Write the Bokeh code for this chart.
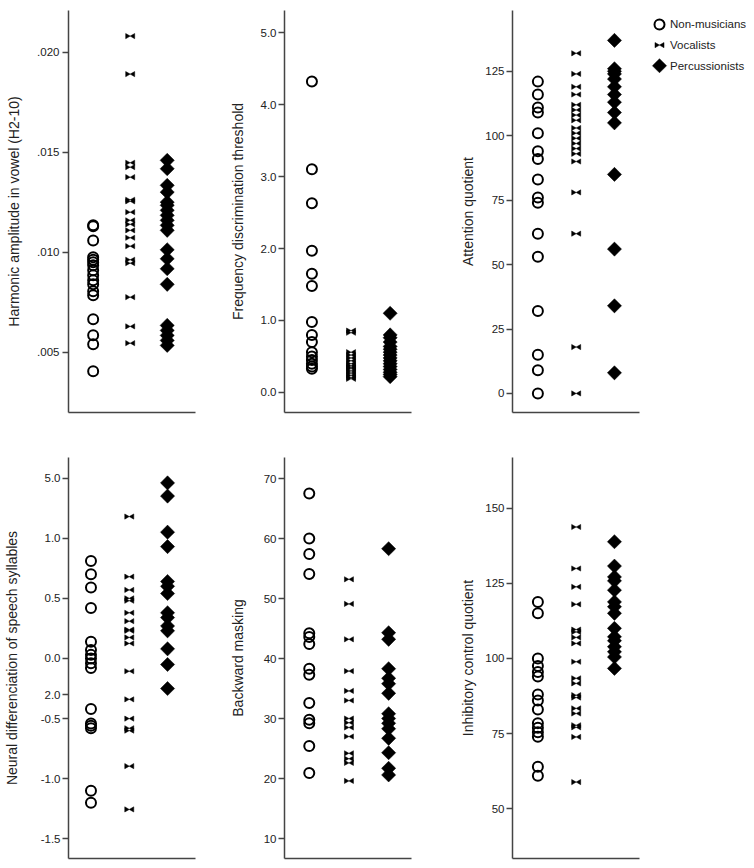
import math
from bokeh.plotting import figure
from bokeh.layouts import row, column
from bokeh.models import Range1d, FixedTicker
from bokeh.core.properties import value
from bokeh.embed import file_html
from bokeh.resources import INLINE

# ---------------- data ----------------
groups = ["Non-musicians", "Vocalists", "Percussionists"]

harm_non = [0.01135, 0.01130, 0.01058, 0.00975, 0.00962, 0.00950, 0.00935, 0.00910, 0.00885,
            0.00860, 0.00840, 0.00805, 0.00785, 0.00665, 0.00585, 0.00540, 0.00405]
harm_voc = [0.0208, 0.0189, 0.01447, 0.01425, 0.01375, 0.01262, 0.01254, 0.0120, 0.01159,
            0.01139, 0.01109, 0.01072, 0.0103, 0.00962, 0.00945, 0.00775, 0.00629, 0.00545]
harm_perc = [0.01459, 0.01417, 0.01334, 0.0130, 0.0125, 0.01234, 0.01209, 0.01184, 0.01159,
             0.01134, 0.01109, 0.01012, 0.00967, 0.00917, 0.00839, 0.00634, 0.00609, 0.00584,
             0.00559, 0.00534]
harm_ticks = [0.005, 0.010, 0.015, 0.020]
harm_labels = [".005", ".010", ".015", ".020"]

freq_non = [4.32, 3.10, 2.63, 1.97, 1.65, 1.48, 0.98, 0.80, 0.70, 0.56, 0.50, 0.45, 0.40, 0.36, 0.33]
freq_voc = [0.86, 0.83, 0.56, 0.52, 0.48, 0.44, 0.40, 0.37, 0.35, 0.33, 0.30, 0.27, 0.24, 0.21, 0.19]
freq_perc = [1.10, 0.80, 0.76, 0.70, 0.64, 0.60, 0.56, 0.52, 0.48, 0.44, 0.40, 0.36, 0.32, 0.28,
             0.25, 0.22]
freq_ticks = [0, 1, 2, 3, 4, 5]
freq_labels = ["0.0", "1.0", "2.0", "3.0", "4.0", "5.0"]

att_non = [121, 116, 111, 109, 101, 94, 91, 83, 76, 74, 62, 53, 32, 15, 9, 0]
att_voc = [132, 124, 119, 116, 112, 110, 108, 106, 103, 101, 99, 97, 95, 93, 90, 78, 62, 18, 0]
att_perc = [137, 126, 125, 124, 122, 119, 116, 113, 109, 105, 85, 56, 34, 8]
att_ticks = [0, 25, 50, 75, 100, 125]
att_labels = ["0", "25", "50", "75", "100", "125"]

neur_non = [0.81, 0.70, 0.59, 0.42, 0.14, 0.07, 0.03, 0.0, -0.04, -0.08, -0.42, -0.54, -0.56,
            -0.58, -1.10, -1.20]
neur_voc = [1.18, 0.68, 0.57, 0.50, 0.48, 0.38, 0.31, 0.24, 0.23, 0.175, 0.125, -0.106, -0.34,
            -0.50, -0.58, -0.60, -0.895, -1.255]
neur_perc = [1.46, 1.35, 1.05, 0.93, 0.64, 0.60, 0.54, 0.38, 0.34, 0.27, 0.23, 0.08, -0.05, -0.25]
neur_ticks = [-1.5, -1.0, -0.5, -0.3, 0.0, 0.5, 1.0, 1.5]
neur_labels = ["-1.5", "-1.0", "-0.5", "2.0", "0.0", "0.5", "1.0", "5.0"]

bm_non = [67.5, 60.0, 57.4, 54.1, 44.2, 43.6, 42.4, 38.3, 37.3, 32.6, 29.8, 29.2, 25.4, 20.9]
bm_voc = [53.2, 49.1, 43.2, 37.9, 34.6, 33.0, 30.0, 29.3, 28.5, 27.0, 24.2, 23.3, 22.6, 19.6]
bm_perc = [58.3, 44.3, 43.2, 38.3, 36.7, 35.8, 34.2, 30.8, 30.0, 29.2, 28.3, 26.7, 24.3, 21.7, 20.6]
bm_ticks = [10, 20, 30, 40, 50, 60, 70]
bm_labels = ["10", "20", "30", "40", "50", "60", "70"]

inh_non = [118.8, 115.0, 100.0, 97.5, 95.5, 94.0, 88.0, 86.0, 83.0, 78.5, 77.0, 75.5, 74.0, 64.0, 61.0]
inh_voc = [143.7, 129.9, 123.8, 118.0, 109.6, 108.8, 107.0, 105.0, 98.9, 93.4, 91.7, 87.8, 87.0,
           83.4, 81.7, 77.8, 77.1, 73.9, 58.9]
inh_perc = [138.8, 130.7, 127.1, 125.8, 122.7, 118.8, 117.2, 115.0, 110.0, 107.2, 105.9, 103.9,
            102.2, 100.5, 96.7]
inh_ticks = [50, 75, 100, 125, 150]
inh_labels = ["50", "75", "100", "125", "150"]

# ---------------- style ----------------
FONT = "Liberation Sans"
TXT = "#222222"
LINE = "#444444"
FRAME_W = 127
TICK_FS = "11.5px"
LAB_FS = "14px"
CIRC_SIZE = 10
DIAM_SIZE = 10
TRI_SIZE = 5.2


def make_panel(ylabel, non, voc, perc, ticks, labels, yr, xr, L, R, T, B, fh,
               tick_std, lab_std):
    p = figure(width=L + FRAME_W + R, height=T + fh + B,
               x_range=Range1d(*xr), y_range=Range1d(*yr),
               output_backend="svg", toolbar_location=None,
               min_border_left=L, min_border_right=R,
               min_border_top=T, min_border_bottom=B)
    p.outline_line_color = None
    p.grid.visible = False
    p.background_fill_color = "white"
    p.border_fill_color = "white"

    xa = p.xaxis[0]
    xa.ticker = FixedTicker(ticks=[], minor_ticks=[])
    xa.major_tick_out = 0
    xa.major_tick_in = 0
    xa.minor_tick_out = 0
    xa.minor_tick_in = 0
    xa.major_label_text_font_size = "0px"
    xa.major_label_standoff = 0
    xa.axis_line_color = LINE
    xa.axis_line_width = 1.5

    ya = p.yaxis[0]
    ya.ticker = FixedTicker(ticks=ticks, minor_ticks=[])
    ya.major_label_overrides = {float(t): l for t, l in zip(ticks, labels)}
    ya.major_tick_out = 6
    ya.major_tick_in = 0
    ya.minor_tick_out = 0
    ya.minor_tick_in = 0
    ya.axis_line_color = LINE
    ya.axis_line_width = 1.5
    ya.major_tick_line_color = LINE
    ya.major_tick_line_width = 1.5
    ya.major_label_text_font = FONT
    ya.major_label_text_font_size = TICK_FS
    ya.major_label_text_color = TXT
    ya.major_label_standoff = tick_std
    ya.axis_label = ylabel
    ya.axis_label_text_font = FONT
    ya.axis_label_text_font_size = LAB_FS
    ya.axis_label_text_font_style = "normal"
    ya.axis_label_text_color = TXT
    ya.axis_label_standoff = lab_std

    # non-musicians: open circles
    p.scatter([1] * len(non), non, marker="circle", size=CIRC_SIZE, fill_color=None,
              line_color="black", line_width=2)
    # vocalists: bowtie made from two triangles meeting at the centre
    dx_px = TRI_SIZE * math.sqrt(3) / 2 * 2 / 3
    dx = dx_px * (xr[1] - xr[0]) / FRAME_W
    p.scatter([2 - dx] * len(voc), voc, marker="triangle", size=TRI_SIZE, angle=-math.pi / 2,
              fill_color="black", line_color="black", line_width=0.5)
    p.scatter([2 + dx] * len(voc), voc, marker="triangle", size=TRI_SIZE, angle=math.pi / 2,
              fill_color="black", line_color="black", line_width=0.5)
    # percussionists: filled diamonds
    p.scatter([3] * len(perc), perc, marker="square", size=DIAM_SIZE, angle=math.pi / 4,
              fill_color="black", line_color="black", line_width=0.5)
    return p


TOP_T, TOP_FH, TOP_B = 10, 402, 20
BOT_T, BOT_FH, BOT_B = 25, 401, 2

f1 = make_panel("Harmonic amplitude in vowel (H2-10)", harm_non, harm_voc, harm_perc,
                harm_ticks, harm_labels, (0.001985, 0.02208), (0.334, 3.764),
                68, 27, TOP_T, TOP_B, TOP_FH, 3, 12)
f2 = make_panel("Frequency discrimination threshold", freq_non, freq_voc, freq_perc,
                freq_ticks, freq_labels, (-0.278, 5.306), (0.299, 3.546),
                62, 39, TOP_T, TOP_B, TOP_FH, 2, 12)
f3 = make_panel("Attention quotient", att_non, att_voc, att_perc,
                att_ticks, att_labels, (-7.4, 148.6), (0.337, 3.654),
                62, 10, TOP_T, TOP_B, TOP_FH, 2, 6)
f4 = make_panel("Neural differenciation of speech syllables", neur_non, neur_voc, neur_perc,
                neur_ticks, neur_labels, (-1.663, 1.671), (0.413, 3.73),
                68, 27, BOT_T, BOT_B, BOT_FH, 2, 18)
f5 = make_panel("Backward masking", bm_non, bm_voc, bm_perc,
                bm_ticks, bm_labels, (6.67, 73.5), (0.376, 3.576),
                62, 39, BOT_T, BOT_B, BOT_FH, 2, 15)
f6 = make_panel("Inhibitory control quotient", inh_non, inh_voc, inh_perc,
                inh_ticks, inh_labels, (33.5, 166.8), (0.337, 3.654),
                62, 10, BOT_T, BOT_B, BOT_FH, 2, 6)

# ---------------- legend (own panel, pixel space) ----------------
LW, LH = 97, TOP_T + TOP_FH + TOP_B
lg = figure(width=LW, height=LH, x_range=Range1d(0, LW), y_range=Range1d(LH, 0),
            output_backend="svg", toolbar_location=None,
            x_axis_type=None, y_axis_type=None,
            min_border_left=0, min_border_right=0, min_border_top=0, min_border_bottom=0)
lg.outline_line_color = None
lg.grid.visible = False
mx, tx, y0, gap = 10, 20.5, 15, 22.2
ly = [y0 + i * gap for i in range(len(groups))]
lg.scatter([mx], [ly[0]], marker="circle", size=CIRC_SIZE, fill_color=None,
           line_color="black", line_width=2)
off = TRI_SIZE * math.sqrt(3) / 2 * 2 / 3
lg.scatter([mx - off], [ly[1]], marker="triangle", size=TRI_SIZE, angle=-math.pi / 2,
           fill_color="black", line_color="black", line_width=0.5)
lg.scatter([mx + off], [ly[1]], marker="triangle", size=TRI_SIZE, angle=math.pi / 2,
           fill_color="black", line_color="black", line_width=0.5)
lg.scatter([mx], [ly[2]], marker="square", size=DIAM_SIZE, angle=math.pi / 4,
           fill_color="black", line_color="black", line_width=0.5)
lg.text([tx] * len(groups), ly, text=groups, text_font=value(FONT),
        text_font_size=TICK_FS, text_color=TXT, text_baseline="middle", text_align="left")

layout = column(row(f1, f2, f3, lg), row(f4, f5, f6))

with open("out.html", "w") as fh:
    fh.write(file_html(layout, INLINE))
